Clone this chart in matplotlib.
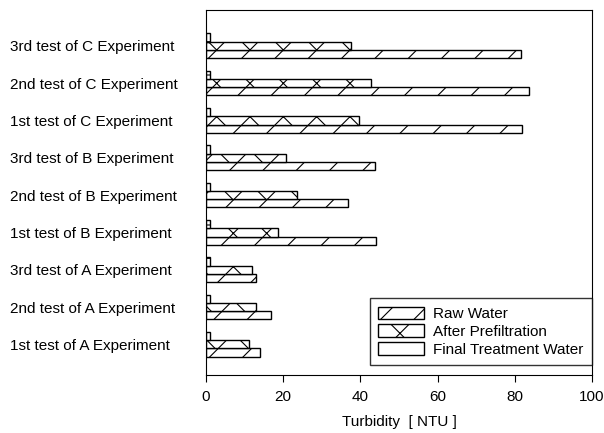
import numpy as np
import matplotlib
matplotlib.use('Agg')
import matplotlib.pyplot as plt

plt.rcParams['font.family'] = ['Liberation Sans', 'DejaVu Sans']
plt.rcParams['hatch.linewidth'] = 0.8

# tests, from bottom to top
tests = ['1st test of A Experiment', '2nd test of A Experiment', '3rd test of A Experiment',
         '1st test of B Experiment', '2nd test of B Experiment', '3rd test of B Experiment',
         '1st test of C Experiment', '2nd test of C Experiment', '3rd test of C Experiment']
raw_water = [14.1, 16.8, 13.0, 44.0, 36.8, 43.8, 81.8, 83.7, 81.6]
prefiltration = [11.1, 13.0, 12.0, 18.7, 23.7, 20.7, 39.6, 42.7, 37.6]
final_water = [1.0, 1.0, 1.0, 1.0, 1.0, 1.0, 1.0, 1.0, 1.0]

fig = plt.figure(figsize=(6.04, 4.33), dpi=100)
ax = fig.add_axes([0.341, 0.134, 0.639, 0.843])

y = np.arange(1, len(tests) + 1)
h = 0.22
ax.barh(y - h, raw_water, height=h, color='white', edgecolor='black', hatch='/', lw=1, label='Raw Water')
ax.barh(y, prefiltration, height=h, color='white', edgecolor='black', hatch='x', lw=1, label='After Prefiltration')
ax.barh(y + h, final_water, height=h, color='white', edgecolor='black', hatch='-', lw=1, label='Final Treatment Water')

fs = 11
ax.set_xlim(0, 100)
ax.set_ylim(0.18, 9.96)
ax.set_xticks([0, 20, 40, 60, 80, 100])
ax.set_yticks(y)
ax.set_yticklabels(tests, ha='left', fontsize=fs)
# 196 px from the left spine -> points
ax.tick_params(axis='y', length=0, pad=196 * 72 / 100)
ax.tick_params(axis='x', direction='out', length=5, labelsize=fs, pad=6)
ax.set_xlabel('Turbidity  [ NTU ]', fontsize=fs, labelpad=8)

leg = ax.legend(loc='lower right', bbox_to_anchor=(1.0, 0.027), borderaxespad=0, fontsize=fs,
                frameon=True, fancybox=False, edgecolor='black', handlelength=3.0,
                handleheight=0.9, labelspacing=0.2, borderpad=0.55, handletextpad=0.6)
leg.get_frame().set_linewidth(1)

fig.savefig('out.png', dpi=100)
